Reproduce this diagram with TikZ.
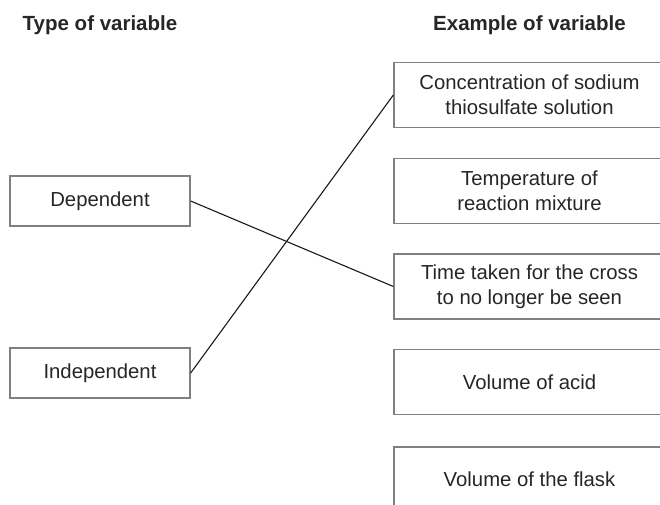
\documentclass[tikz,border=0pt]{standalone}
\usepackage{fontspec}
\setmainfont{Liberation Sans}
\begin{document}
\begin{tikzpicture}[x=1pt,y=-1pt,
  box/.style={draw=black!50,line width=1.3pt,fill=white,inner sep=0pt,align=center,
    font=\fontsize{20.3}{25}\selectfont,text=black!85},
  lbox/.style={box,minimum width=180pt,minimum height=50pt},
  rbox/.style={box,minimum width=271pt,minimum height=65pt},
  head/.style={font=\fontsize{20.5}{25}\selectfont\bfseries,text=black!85,inner sep=0pt},
  link/.style={draw=black!90,line width=1.1pt}]
\useasboundingbox (0,0) rectangle (660,505);
\clip (0,0) rectangle (660,505);
\node[head] (h1) at (100,25) {Type of variable};
\node[head] (h2) at (529.5,25) {Example of variable};
\node[lbox] (dep) at (100,201) {Dependent};
\node[lbox] (ind) at (100,373) {Independent};
\node[rbox] (r1) at (529.5,95) {Concentration of sodium\\thiosulfate solution};
\node[rbox] (r2) at (529.5,191) {Temperature of\\reaction mixture};
\node[rbox] (r3) at (529.5,286.5) {Time taken for the cross\\to no longer be seen};
\node[rbox] (r4) at (529.5,382) {Volume of acid};
\node[rbox] (r5) at (529.5,479.5) {Volume of the flask};
\draw[link] (dep.east) -- (r3.west);
\draw[link] (ind.east) -- (r1.west);
\end{tikzpicture}
\end{document}
